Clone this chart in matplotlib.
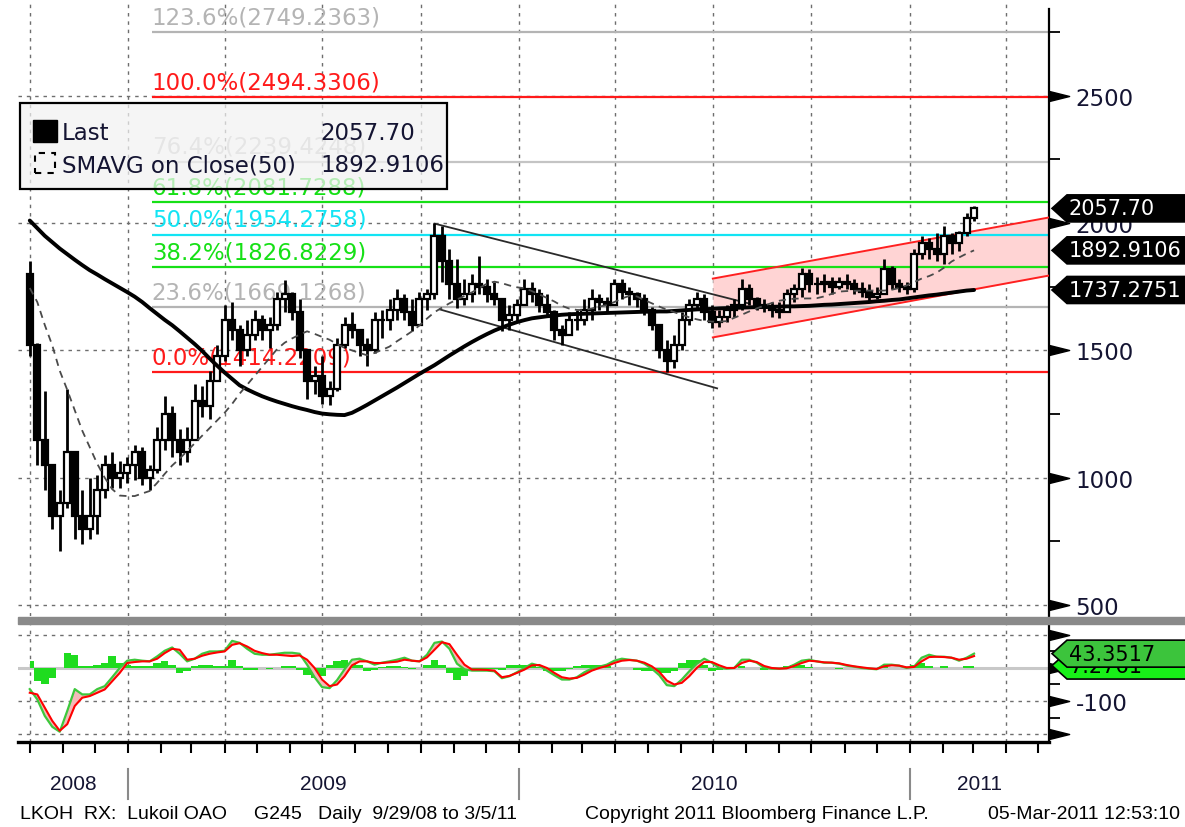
import numpy as np
import pandas as pd
import matplotlib
matplotlib.use("Agg")
import matplotlib.pyplot as plt
import matplotlib.dates as mdates
from matplotlib.patches import Rectangle, Polygon
from matplotlib.path import Path
from matplotlib.lines import Line2D
from matplotlib.transforms import blended_transform_factory
from datetime import datetime

plt.rcParams['font.family'] = ['DejaVu Sans']

W, H = 1185, 828

# weekly bars, 29 Sep 2008 .. 4 Mar 2011
first_open = 1800
close = [1520, 1150, 1050, 850, 900, 1100, 850, 800, 850, 950,
         1050, 1000, 1020, 1050, 1100, 1000, 1030, 1150, 1250, 1150,
         1100, 1150, 1300, 1280, 1380, 1480, 1620, 1580, 1500, 1560,
         1620, 1580, 1600, 1700, 1720, 1650, 1500, 1380, 1400, 1320,
         1350, 1520, 1600, 1580, 1520, 1500, 1620, 1620, 1660, 1700,
         1650, 1600, 1700, 1720, 1950, 1850, 1760, 1700, 1720, 1760,
         1750, 1720, 1700, 1620, 1640, 1680, 1740, 1720, 1680, 1650,
         1580, 1560, 1620, 1620, 1660, 1700, 1690, 1680, 1760, 1730,
         1720, 1700, 1660, 1600, 1500, 1460, 1520, 1620, 1680, 1700,
         1650, 1610, 1630, 1660, 1680, 1740, 1700, 1680, 1670, 1660,
         1650, 1720, 1740, 1800, 1760, 1760, 1770, 1750, 1770, 1760,
         1740, 1730, 1710, 1720, 1820, 1760, 1750, 1740, 1880, 1920,
         1900, 1880, 1950, 1920, 1960, 2020, 2057.70]
high = [1850, 1530, 1340, 1050, 950, 1350, 1100, 950, 1000, 1010,
        1090, 1100, 1065, 1080, 1130, 1120, 1050, 1200, 1320, 1280,
        1190, 1200, 1370, 1360, 1420, 1520, 1680, 1690, 1600, 1620,
        1660, 1640, 1630, 1730, 1775, 1730, 1700, 1500, 1440, 1480,
        1380, 1550, 1630, 1650, 1580, 1550, 1650, 1660, 1700, 1740,
        1720, 1700, 1730, 1740, 2000, 1990, 1900, 1860, 1780, 1800,
        1870, 1780, 1770, 1700, 1680, 1700, 1780, 1770, 1740, 1720,
        1660, 1600, 1650, 1660, 1700, 1740, 1720, 1710, 1780, 1780,
        1750, 1730, 1720, 1670, 1600, 1540, 1560, 1650, 1700, 1730,
        1720, 1680, 1660, 1680, 1700, 1782, 1760, 1710, 1700, 1690,
        1690, 1740, 1760, 1822, 1820, 1790, 1800, 1790, 1790, 1800,
        1780, 1770, 1760, 1750, 1860, 1830, 1780, 1770, 1900, 1950,
        1940, 1960, 1990, 1960, 1970, 2040, 2069]
low = [1480, 1050, 950, 800, 712, 880, 760, 740, 760, 780,
       920, 960, 960, 980, 990, 970, 950, 1020, 1110, 1080,
       1050, 1060, 1150, 1240, 1230, 1380, 1460, 1540, 1440, 1480,
       1540, 1540, 1510, 1580, 1650, 1620, 1470, 1310, 1330, 1290,
       1285, 1340, 1510, 1550, 1480, 1440, 1490, 1550, 1580, 1620,
       1620, 1575, 1600, 1660, 1700, 1770, 1700, 1665, 1680, 1690,
       1720, 1690, 1680, 1575, 1580, 1610, 1680, 1690, 1650, 1630,
       1540, 1520, 1560, 1580, 1600, 1620, 1660, 1650, 1680, 1700,
       1680, 1670, 1640, 1580, 1470, 1414, 1430, 1500, 1600, 1660,
       1620, 1587, 1590, 1610, 1630, 1660, 1680, 1660, 1650, 1630,
       1626, 1650, 1690, 1710, 1730, 1720, 1730, 1720, 1740, 1740,
       1720, 1710, 1690, 1700, 1720, 1740, 1730, 1720, 1730, 1860,
       1860, 1850, 1840, 1880, 1890, 1950, 2010]

# SMAVG(50) (dashed) and the long average (thick), weekly readings
sma50 = [1745, 1690, 1600, 1520, 1420, 1345, 1265, 1185, 1120, 1055,
         1000, 955, 930, 928, 928, 938, 948, 980, 1015, 1048,
         1075, 1105, 1135, 1165, 1195, 1225, 1255, 1290, 1330, 1365,
         1400, 1435, 1470, 1505, 1530, 1547, 1562, 1575, 1565, 1553,
         1542, 1525, 1510, 1500, 1490, 1481, 1490, 1502, 1515, 1536,
         1555, 1575, 1598, 1625, 1650, 1668, 1685, 1700, 1714, 1728,
         1745, 1762, 1770, 1764, 1755, 1748, 1744, 1733, 1720, 1706,
         1692, 1675, 1664, 1659, 1658, 1665, 1672, 1678, 1690, 1704,
         1714, 1712, 1698, 1685, 1672, 1660, 1650, 1640, 1630, 1622,
         1616, 1613, 1613, 1615, 1628, 1640, 1653, 1665, 1676, 1686,
         1695, 1700, 1703, 1704, 1704, 1705, 1712, 1722, 1731, 1733,
         1734, 1735, 1735, 1735, 1735, 1738, 1745, 1755, 1768, 1782,
         1792, 1805, 1825, 1849, 1865, 1880, 1892.91]
sma_long = [2010, 1980, 1950, 1925, 1900, 1878, 1856, 1835, 1815, 1798,
            1780, 1763, 1746, 1729, 1711, 1690, 1666, 1643, 1620, 1599,
            1575, 1550, 1525, 1498, 1468, 1440, 1413, 1388, 1363, 1347,
            1333, 1320, 1309, 1299, 1290, 1281, 1273, 1266, 1258, 1252,
            1249, 1247, 1246, 1255, 1270, 1286, 1303, 1320, 1337, 1354,
            1372, 1390, 1408, 1425, 1442, 1461, 1480, 1498, 1516, 1533,
            1549, 1564, 1578, 1590, 1601, 1611, 1619, 1626, 1630, 1634,
            1637, 1640, 1642, 1643, 1644, 1645, 1646, 1647, 1648, 1649,
            1650, 1651, 1652, 1652, 1653, 1653, 1655, 1657, 1659, 1661,
            1662, 1663, 1665, 1666, 1667, 1668, 1669, 1670, 1670, 1671,
            1672, 1673, 1673, 1674, 1675, 1677, 1679, 1680, 1682, 1684,
            1686, 1688, 1690, 1693, 1695, 1698, 1700, 1704, 1708, 1712,
            1716, 1719, 1723, 1727, 1731, 1735, 1737.28]

# MACD panel, weekly readings
macd = [-64, -95, -145, -178, -193, -130, -64, -80, -80, -64,
        -55, -28, 0, 22, 25, 22, 20, 35, 52, 62,
        43, 20, 28, 43, 50, 50, 52, 82, 76, 58,
        43, 40, 40, 43, 46, 46, 43, 10, -28, -58,
        -61, -37, -4, 25, 28, 20, 10, 16, 20, 25,
        31, 22, 20, 40, 76, 80, 58, 13, -4, -8,
        -8, -8, -10, -31, -25, -13, 0, 13, 7, -8,
        -22, -35, -35, -28, -13, -2, 4, 10, 22, 28,
        25, 22, 13, -2, -22, -52, -55, -35, -10, 13,
        28, 16, 0, -2, 0, 25, 25, 16, 0, -2,
        -2, 0, 10, 22, 25, 20, 16, 16, 13, 7,
        4, 0, -2, -4, 10, 10, 7, 0, 4, 31,
        40, 34, 34, 31, 22, 31, 43.35]
signal = [-75, -80, -120, -160, -190, -170, -115, -90, -85, -75,
          -65, -40, -15, 15, 18, 20, 20, 28, 45, 58,
          55, 25, 28, 37, 43, 47, 50, 70, 75, 65,
          52, 45, 40, 40, 38, 36, 38, 25, 0, -35,
          -55, -50, -25, 8, 20, 20, 15, 15, 17, 19,
          25, 22, 20, 32, 55, 78, 72, 40, 10, -5,
          -5, -6, -8, -28, -24, -15, -5, 8, 9, 0,
          -15, -28, -32, -30, -20, -8, 0, 6, 15, 22,
          24, 22, 16, 5, -12, -38, -50, -45, -25, 0,
          18, 18, 8, 0, 0, 15, 22, 18, 6, 0,
          -2, -1, 6, 15, 22, 20, 17, 16, 14, 9,
          5, 2, -1, -3, 5, 8, 7, 2, 3, 20,
          33, 34, 33, 31, 25, 28, 36]
hist = [20, -40, -50, -30, 0, 45, 40, 5, 5, 10,
        15, 35, 15, 10, 5, 5, 5, 15, 20, 10,
        -15, -10, 5, 10, 8, 5, 5, 25, 5, -5,
        -5, 0, -3, 0, 5, 5, -5, -20, -30, -25,
        10, 20, 25, 15, 8, -8, -5, 3, 5, 5,
        3, -3, 0, 10, 25, 10, -15, -35, -25, -5,
        -3, -3, -3, -5, 8, 8, 10, 10, 3, -8,
        -10, -8, -3, 5, 10, 10, 8, 5, 0, 0,
        0, -5, -8, -10, -15, -15, -10, 15, 25, 25,
        8, -8, -5, 0, 0, 5, 0, 0, -5, 0,
        0, 5, 10, 10, 3, 0, 0, 0, -3, 0,
        0, 0, -3, 0, 5, 0, 0, 0, 10, 15,
        5, 0, 5, 0, 0, 5, 7.28]

fib_pct = ["123.6", "100.0", "76.4", "61.8", "50.0", "38.2", "23.6", "0.0"]
fib_txt = ["2749.2363", "2494.3306", "2239.4248", "2081.7288",
           "1954.2758", "1826.8229", "1669.1268", "1414.2209"]
fib_col = ["#b4b4b4", "#ff1a1a", "#c4c4c4", "#16e016",
           "#12e4f4", "#16e016", "#b4b4b4", "#ff1a1a"]
fib_start = datetime(2009, 1, 23)

# hand drawn trend lines (date, price)
down_upper = [(datetime(2009, 10, 14), 1998), (datetime(2010, 8, 4), 1684)]
down_lower = [(datetime(2009, 10, 19), 1661), (datetime(2010, 7, 5), 1351)]
chan_dates = [datetime(2010, 7, 1), datetime(2011, 5, 11)]
chan_upper = [1782, 2022]
chan_lower = [1551, 1794]

x_left, x_right = datetime(2008, 9, 20), datetime(2011, 5, 11)

fig = plt.figure(figsize=(W / 100, H / 100), dpi=100)
fig.patch.set_facecolor("white")

def fx(px):
    return px / W

def fy(py):
    return 1 - py / H

ax = fig.add_axes([fx(18), fy(617), fx(1049) - fx(18), fy(0) - fy(617)])
mx = fig.add_axes([fx(18), fy(743), fx(1049) - fx(18), fy(626) - fy(743)])

weeks = pd.date_range("2008-10-01", periods=len(close), freq="7D")
wn = mdates.date2num(weeks)
cl = np.array(close, float)
op = np.array([first_open] + close[:-1], float)
up = cl >= op

grid_kw = dict(color="#6e6e6e", lw=1.0, dashes=(2.5, 3.5), zorder=0.5)
quarters = pd.date_range("2008-10-01", "2011-04-01", freq="QS")
months = pd.date_range("2008-10-01", "2011-05-01", freq="MS")

# ---- main panel
for q in quarters:
    ax.axvline(q, **grid_kw)
for v in [500, 1000, 1500, 2000, 2500]:
    ax.axhline(v, **grid_kw)

ax.fill_between(chan_dates, chan_lower, chan_upper, color="#ffd4d4", lw=0, zorder=1)
ax.plot(chan_dates, chan_upper, color="#ff2020", lw=1.4, zorder=3)
ax.plot(chan_dates, chan_lower, color="#ff2020", lw=1.4, zorder=3)

for pct, txt, c in zip(fib_pct, fib_txt, fib_col):
    val = float(txt)
    ax.plot([fib_start, x_right], [val, val], color=c, lw=1.6, zorder=2,
            solid_capstyle="butt")
    ax.annotate(pct + "%(" + txt + ")", (mdates.date2num(fib_start), val),
                xytext=(0, 3), textcoords="offset points", color=c,
                fontsize=16.5, ha="left", va="bottom", zorder=2.5)

for seg in (down_upper, down_lower):
    ax.plot([seg[0][0], seg[1][0]], [seg[0][1], seg[1][1]], color="#2a2a2a",
            lw=1.3, zorder=3)

ax.vlines(wn, low, high, color="black", lw=2.0, zorder=4)
bw = 5.6
ax.bar(wn[up], (cl - op)[up], bottom=op[up], width=bw, facecolor="white",
       edgecolor="black", lw=1.6, zorder=5)
ax.bar(wn[~up], (op - cl)[~up], bottom=cl[~up], width=bw, facecolor="black",
       edgecolor="black", lw=1.6, zorder=5)

ax.plot(wn, sma_long, color="black", lw=2.8, zorder=6, solid_capstyle="round")
ax.plot(wn, sma50, color="#4a4a4a", lw=1.3, dashes=(4, 3), zorder=6)

ax.set_xlim(x_left, x_right)
ax.set_ylim(457, 2880)
for s in ("left", "top", "bottom"):
    ax.spines[s].set_visible(False)
ax.spines["right"].set_linewidth(1.6)
ax.spines["right"].set_bounds(457, 2841)
ax.set_xticks([])
ax.yaxis.tick_right()
ax.set_yticks([500, 1000, 1500, 2000, 2500])
ax.set_yticklabels(["500", "1000", "1500", "2000", "2500"])
ax.set_yticks([750, 1250, 1750, 2250, 2750], minor=True)
ax.tick_params(axis="y", which="major", length=0, pad=19, labelsize=16.5,
               labelcolor="#141432")
ax.tick_params(axis="y", which="minor", length=8, width=1.3, direction="out")

caret = Path([(0, -1.25), (5, 0), (0, 1.25), (0, -1.25)],
             [Path.MOVETO, Path.LINETO, Path.LINETO, Path.CLOSEPOLY])
yt = blended_transform_factory(ax.transAxes, ax.transData)
ax.plot([1] * 5, [500, 1000, 1500, 2000, 2500], ls="none", marker=caret, ms=29,
        color="black", transform=yt, clip_on=False, zorder=7)

# ---- MACD panel
for q in quarters:
    mx.axvline(q, **grid_kw)
for v in [100, -100, -200]:
    mx.axhline(v, **grid_kw)
mx.axhline(0, color="#c8c8c8", lw=2.2, zorder=1)
mx.fill_between(wn, 0, hist, step="mid", color="#1fdc1f", lw=0, zorder=2)
mx.fill_between(wn, macd, signal, color="#f5b9b9", lw=0, zorder=3)
mx.plot(wn, macd, color="#3cc83c", lw=1.6, zorder=4)
mx.plot(wn, signal, color="#ff0000", lw=1.5, zorder=5)
mx.set_xlim(x_left, x_right)
mx.set_ylim(-224, 130)
for s in ("left", "top"):
    mx.spines[s].set_visible(False)
mx.spines["right"].set_linewidth(1.6)
mx.spines["bottom"].set_linewidth(2.4)
mx.set_xticks(mdates.date2num(months))
mx.set_xticklabels([])
mx.tick_params(axis="x", length=8, width=1.5, direction="out")
mx.yaxis.tick_right()
mx.set_yticks([-100])
mx.set_yticklabels(["-100"])
mx.set_yticks([50, -50, -150], minor=True)
mx.tick_params(axis="y", which="major", length=0, pad=19, labelsize=16.5,
               labelcolor="#141432")
mx.tick_params(axis="y", which="minor", length=8, width=1.3, direction="out")
mt = blended_transform_factory(mx.transAxes, mx.transData)
mx.plot([1] * 4, [100, 0, -100, -200], ls="none", marker=caret, ms=29,
        color="black", transform=mt, clip_on=False, zorder=7)

# panel separator
fig.add_artist(Rectangle((fx(18), fy(625)), 1 - fx(18), fy(618) - fy(625),
                         transform=fig.transFigure, color="#8a8a8a", zorder=3))

# ---- value tags on the right
def tag(axis, val, txt, fc, tc, fs=15, h=27, z=8):
    tip = axis.bbox.x1 + 3
    yp = axis.transData.transform((axis.get_xlim()[0], val))[1]
    pts = [(tip, yp), (tip + 15, yp + h / 2), (W + 20, yp + h / 2),
           (W + 20, yp - h / 2), (tip + 15, yp - h / 2)]
    pts = [(p[0] / W, p[1] / H) for p in pts]
    fig.add_artist(Polygon(pts, closed=True, transform=fig.transFigure,
                           facecolor=fc, edgecolor="black", lw=1.2, zorder=z))
    fig.text((tip + 17) / W, yp / H, txt, color=tc, fontsize=fs, ha="left",
             va="center", zorder=z + 0.5)

tag(ax, 2057.70, "2057.70", "black", "white")
tag(ax, 1892.9106, "1892.9106", "black", "white")
tag(ax, 1737.2751, "1737.2751", "black", "white")
tag(mx, 7.2761, "7.2761", "#18f018", "black", z=8)
tag(mx, 43.3517, "43.3517", "#3cc43c", "black", z=9)

# ---- legend
fig.add_artist(Rectangle((fx(20), fy(190)), fx(447) - fx(20), fy(104) - fy(190),
                         transform=fig.transFigure, facecolor=(0.95, 0.95, 0.95, 0.72),
                         edgecolor="black", lw=1.6, zorder=5))
fig.add_artist(Rectangle((fx(33), fy(143)), 24 / W, 22 / H, transform=fig.transFigure,
                         facecolor="black", edgecolor="black", zorder=6))
fig.add_artist(Rectangle((fx(35), fy(174)), 20 / W, 20 / H, transform=fig.transFigure,
                         fill=False, edgecolor="black", lw=1.5, ls=(0, (3, 3)), zorder=6))
lg = dict(fontsize=16.5, color="#141432", va="center", ha="left", zorder=7)
fig.text(fx(62), fy(133), "Last", **lg)
fig.text(fx(320), fy(133), "2057.70", **lg)
fig.text(fx(62), fy(166), "SMAVG on Close(50)", **lg)
fig.text(fx(320), fy(166), "1892.9106", **lg)

# ---- year labels and footer
narrow = ["Liberation Sans", "DejaVu Sans"]
bt = blended_transform_factory(mx.transData, fig.transFigure)
years = [2008, 2009, 2010, 2011]
lo, hi = mdates.date2num(x_left), mdates.date2num(x_right)
for yr in years:
    a = max(mdates.date2num(datetime(yr, 1, 1)), lo)
    b = min(mdates.date2num(datetime(yr + 1, 1, 1)), hi)
    fig.text((a + b) / 2, fy(785), str(yr), transform=bt, fontsize=15,
             color="#141432", ha="center", va="center", family=narrow)
    if yr > 2008:
        fig.add_artist(Line2D([a, a], [fy(770), fy(800)], transform=bt,
                              color="#8a8a8a", lw=1.5))

ft = dict(fontsize=14, color="black", va="center", family=narrow)
fig.text(fx(20), fy(815), "LKOH  RX:  Lukoil OAO     G245   Daily  9/29/08 to 3/5/11",
         ha="left", **ft)
fig.text(fx(585), fy(815), "Copyright 2011 Bloomberg Finance L.P.", ha="left", **ft)
fig.text(fx(1180), fy(815), "05-Mar-2011 12:53:10", ha="right", **ft)

fig.savefig("out.png", dpi=100)
